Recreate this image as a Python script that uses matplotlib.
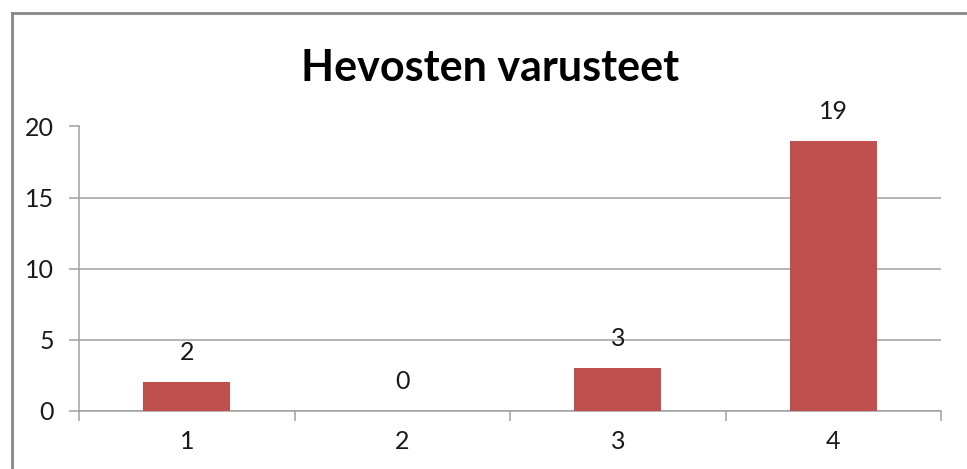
import matplotlib
matplotlib.use("Agg")
import matplotlib.pyplot as plt
from matplotlib.lines import Line2D
import numpy as np

categories = ["1", "2", "3", "4"]
values = [2, 0, 3, 19]
title = "Hevosten varusteet"
yticks = [0, 5, 10, 15, 20]

W, H = 967, 469
fig = plt.figure(figsize=(W / 100, H / 100), dpi=100)
plt.rcParams['font.family'] = ['Lato', 'DejaVu Sans']

ax = fig.add_axes([79 / W, 1 - 410.7 / H, (941 - 79) / W, (410.7 - 126.5) / H])

bar_color = "#C0504D"
grid_color = "#A0A0A0"
text_color = "#1a1a1a"
fs = 18
x = np.arange(len(categories))
bars = ax.bar(x, values, width=0.405, color=bar_color, zorder=3)

ax.set_xlim(-0.5, len(categories) - 0.5)
ax.set_ylim(0, 20)
ax.set_yticks(yticks)
ax.set_yticklabels([str(t) for t in yticks], fontsize=fs, color=text_color)
ax.yaxis.grid(True, color=grid_color, linewidth=1.1, zorder=0)

# x labels at centers, ticks at boundaries
ax.set_xticks(x)
ax.set_xticklabels(categories, fontsize=fs, color=text_color)
ax.tick_params(axis='x', length=0, pad=14)
ax.set_xticks(np.arange(len(categories) + 1) - 0.5, minor=True)
ax.tick_params(axis='x', which='minor', length=7, color=grid_color, width=1.1)
ax.tick_params(axis='y', length=7, color=grid_color, width=1.1, pad=11)

for s in ["top", "right"]:
    ax.spines[s].set_visible(False)
for s in ["left", "bottom"]:
    ax.spines[s].set_color(grid_color)
    ax.spines[s].set_linewidth(1.1)

for xi, v in zip(x, values):
    ax.annotate(str(v), (xi, v), xytext=(0, 13), textcoords="offset points",
                ha="center", va="bottom", fontsize=fs, color=text_color)

fig.text(490 / W, 1 - 68 / H, title, ha="center", va="center",
         fontsize=31, fontweight="bold", color="black")

# chart frame (left and top edges visible)
fig.add_artist(Line2D([12 / W, 12 / W], [0, 1 - 13.5 / H], transform=fig.transFigure,
                      color="#878787", linewidth=2))
fig.add_artist(Line2D([12 / W, 1], [1 - 13.5 / H, 1 - 13.5 / H], transform=fig.transFigure,
                      color="#878787", linewidth=2))

fig.savefig("out.png", dpi=100)
